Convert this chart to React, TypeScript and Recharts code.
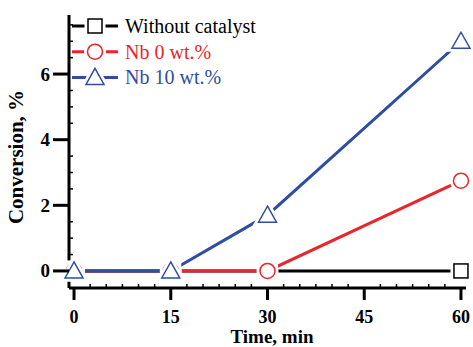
import { Line, LineChart, XAxis, YAxis } from "recharts";

// sampling times, min
const times = [0, 15, 30, 60];
// conversion, %
const withoutCatalyst = [0, 0, 0, 0];
const nb0 = [0, 0, 0, 2.75];
const nb10 = [0, 0, 1.7, 7.0];

const xMajor = [0, 15, 30, 45, 60];
const yMajor = [0, 2, 4, 6];
const xTicks = [0, 2.5, 5, 7.5, 10, 12.5, 15, 17.5, 20, 22.5, 25, 27.5, 30, 32.5, 35, 37.5, 40, 42.5, 45, 47.5, 50, 52.5, 55, 57.5, 60];
const yTicks = [0, 0.5, 1, 1.5, 2, 2.5, 3, 3.5, 4, 4.5, 5, 5.5, 6, 6.5, 7, 7.5];

const series = [
  { key: "none", name: "Without catalyst", color: "#000000", shape: "square" },
  { key: "nb0", name: "Nb 0 wt.%", color: "#e8262d", shape: "circle" },
  { key: "nb10", name: "Nb 10 wt.%", color: "#2f4ea2", shape: "triangle" },
];

const data = times.map((t, i) => ({
  t,
  none: withoutCatalyst[i],
  nb0: nb0[i],
  nb10: nb10[i],
}));

const FONT = '"Liberation Serif", "Times New Roman", serif';

function Marker({ cx, cy, shape, color }: { cx?: number; cy?: number; shape: string; color: string }) {
  if (cx == null || cy == null) return null;
  const draw = (stroke: string, sw: number) => {
    if (shape === "square")
      return <rect x={cx - 7} y={cy - 7} width={14} height={14} fill="#fff" stroke={stroke} strokeWidth={sw} />;
    if (shape === "circle") return <circle cx={cx} cy={cy} r={7.5} fill="#fff" stroke={stroke} strokeWidth={sw} />;
    return (
      <polygon
        points={`${cx},${cy - 9} ${cx + 9},${cy + 7} ${cx - 9},${cy + 7}`}
        fill="#fff"
        stroke={stroke}
        strokeWidth={sw}
      />
    );
  };
  return (
    <g>
      {draw("#fff", 7)}
      {draw(color, 1.5)}
    </g>
  );
}

function XTick({ x, y, payload }: any) {
  const v = payload.value;
  if (xMajor.includes(v)) {
    return (
      <g>
        <line x1={x} x2={x} y1={y} y2={y + 12} stroke="#000" strokeWidth={3} />
        <text x={x} y={y + 35} textAnchor="middle" fontFamily={FONT} fontSize={18} fontWeight={700} fill="#000">
          {v}
        </text>
      </g>
    );
  }
  return <line x1={x} x2={x} y1={y} y2={y - 4} stroke="#000" strokeWidth={1.5} />;
}

function YTick({ x, y, payload }: any) {
  const v = payload.value;
  if (yMajor.includes(v)) {
    return (
      <g>
        <line x1={x - 16} x2={x} y1={y} y2={y} stroke="#000" strokeWidth={3} />
        <text x={x - 19} y={y + 6.5} textAnchor="end" fontFamily={FONT} fontSize={19} fontWeight={700} fill="#000">
          {v}
        </text>
      </g>
    );
  }
  return <line x1={x} x2={x + 4} y1={y} y2={y} stroke="#000" strokeWidth={1.5} />;
}

export default function App() {
  return (
    <div style={{ position: "absolute", top: 0, left: 0, width: 473, height: 347, background: "#fff" }}>
      <LineChart width={473} height={347} data={data} margin={{ top: 15, right: 7, bottom: 19, left: 19 }}>
        <XAxis
          dataKey="t"
          type="number"
          domain={[-0.78, 60.78]}
          ticks={xTicks}
          interval={0}
          height={40}
          stroke="#000"
          axisLine={{ strokeWidth: 3 }}
          tickLine={false}
          tickSize={0}
          tickMargin={0}
          tick={<XTick />}
        />
        <YAxis
          type="number"
          domain={[-0.52, 7.8]}
          ticks={yTicks}
          interval={0}
          width={50}
          stroke="#000"
          axisLine={{ strokeWidth: 3 }}
          tickLine={false}
          tickSize={0}
          tickMargin={0}
          tick={<YTick />}
        />
        {series.map((s) => (
          <Line
            key={s.key}
            dataKey={s.key}
            name={s.name}
            type="linear"
            stroke={s.color}
            strokeWidth={3}
            isAnimationActive={false}
            dot={(p: any) => (
              <Marker key={`${s.key}-${p.index}`} cx={p.cx} cy={p.cy} shape={s.shape} color={s.color} />
            )}
          />
        ))}
      </LineChart>
      <svg
        width={473}
        height={347}
        style={{ position: "absolute", top: 0, left: 0, pointerEvents: "none" }}
      >
        {series.map((s, i) => {
          const y = 26 + i * 25.7;
          return (
            <g key={s.key}>
              <line x1={72} x2={118} y1={y} y2={y} stroke={s.color} strokeWidth={3} />
              <Marker cx={95} cy={y} shape={s.shape} color={s.color} />
              <text x={125} y={y + 7} fontFamily={FONT} fontSize={20} fill={s.color}>
                {s.name}
              </text>
            </g>
          );
        })}
        <text x={272} y={343} textAnchor="middle" fontFamily={FONT} fontSize={19} fontWeight={700} fill="#000">
          Time, min
        </text>
        <text
          x={0}
          y={0}
          transform="translate(23,157) rotate(-90)"
          textAnchor="middle"
          fontFamily={FONT}
          fontSize={21}
          fontWeight={700}
          fill="#000"
        >
          Conversion, %
        </text>
      </svg>
    </div>
  );
}
